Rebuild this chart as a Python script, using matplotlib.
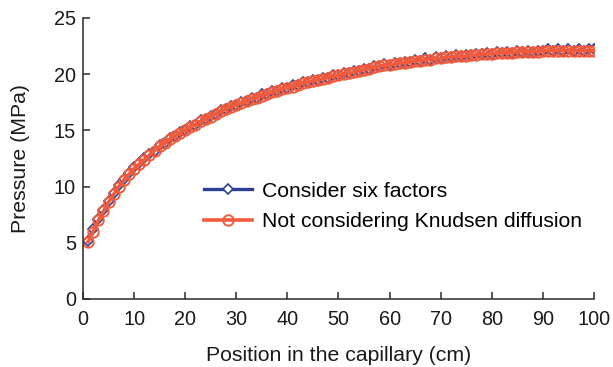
import matplotlib
matplotlib.use('Agg')
import matplotlib.pyplot as plt

plt.rcParams['font.family'] = ['Liberation Sans', 'DejaVu Sans']

# position along the capillary (cm), one node per centimetre
position = list(range(1, 101))

# pressure (MPa), all six factors considered
p_six = [5.2, 6.2, 7.1, 7.9, 8.7, 9.4, 10.1, 10.7, 11.2, 11.7,
         12.1, 12.5, 12.9, 13.2, 13.7, 13.9, 14.3, 14.5, 14.9, 15.0,
         15.4, 15.5, 15.9, 16.0, 16.3, 16.5, 16.8, 16.9, 17.2, 17.3,
         17.5, 17.6, 17.9, 17.9, 18.2, 18.2, 18.5, 18.5, 18.8, 18.8,
         19.0, 19.0, 19.3, 19.3, 19.5, 19.5, 19.7, 19.7, 19.9, 19.9,
         20.1, 20.1, 20.3, 20.3, 20.5, 20.5, 20.7, 20.7, 20.9, 20.8,
         21.0, 21.0, 21.1, 21.1, 21.3, 21.2, 21.4, 21.3, 21.5, 21.4,
         21.6, 21.5, 21.7, 21.6, 21.7, 21.7, 21.8, 21.8, 21.9, 21.8,
         22.0, 21.9, 22.0, 21.9, 22.1, 22.0, 22.1, 22.0, 22.1, 22.1,
         22.2, 22.1, 22.2, 22.1, 22.2, 22.1, 22.2, 22.1, 22.2, 22.2]

# pressure (MPa), Knudsen diffusion neglected
p_no_knudsen = [5.1, 6.0, 7.0, 7.8, 8.6, 9.3, 10.0, 10.6, 11.1, 11.6,
                12.0, 12.4, 12.8, 13.2, 13.6, 13.9, 14.2, 14.5, 14.8, 15.0,
                15.3, 15.5, 15.8, 16.0, 16.2, 16.5, 16.7, 16.9, 17.1, 17.3,
                17.4, 17.6, 17.8, 17.9, 18.1, 18.2, 18.4, 18.5, 18.7, 18.8,
                18.9, 19.0, 19.2, 19.3, 19.4, 19.5, 19.6, 19.7, 19.8, 19.9,
                20.0, 20.1, 20.2, 20.3, 20.4, 20.5, 20.6, 20.7, 20.8, 20.8,
                20.9, 21.0, 21.0, 21.1, 21.2, 21.2, 21.3, 21.3, 21.4, 21.4,
                21.5, 21.5, 21.6, 21.6, 21.6, 21.7, 21.7, 21.8, 21.8, 21.8,
                21.9, 21.9, 21.9, 21.9, 22.0, 22.0, 22.0, 22.0, 22.0, 22.1,
                22.1, 22.1, 22.1, 22.1, 22.1, 22.1, 22.1, 22.1, 22.1, 22.1]

blue = '#2b3f94'
orange = '#f15a3b'

fig = plt.figure(figsize=(6.13, 3.67), dpi=100)
ax = fig.add_axes([0.1354, 0.1853, 0.8336, 0.7657])

ax.plot(position, p_six, color=blue, lw=2.4, marker='D', ms=5.5,
        mfc='white', mec=blue, mew=1.2, label='Consider six factors')
ax.plot(position, p_no_knudsen, color=orange, lw=2.6, marker='o', ms=7.5,
        mfc='none', mec=orange, mew=1.4, label='Not considering Knudsen diffusion')

ax.set_xlim(0, 100)
ax.set_ylim(0, 25)
ax.set_xticks(range(0, 101, 10))
ax.set_yticks(range(0, 26, 5))
ax.spines['top'].set_visible(False)
ax.spines['right'].set_visible(False)
for s in ['left', 'bottom']:
    ax.spines[s].set_linewidth(1.1)
    ax.spines[s].set_color('#2a2a2a')
ax.tick_params(direction='in', length=5, width=1.1, labelsize=14.3,
               color='#2a2a2a', labelcolor='#1a1a1a')
ax.tick_params(axis='y', pad=5)
ax.tick_params(axis='x', pad=8)

ax.set_xlabel('Position in the capillary (cm)', fontsize=15.3, labelpad=12,
              color='#1a1a1a')
ax.set_ylabel('Pressure (MPa)', fontsize=15.3, labelpad=17, color='#1a1a1a')

ax.legend(loc='center left', bbox_to_anchor=(0.22, 0.329), borderaxespad=0,
          frameon=False, fontsize=15.2, handlelength=2.3, handletextpad=0.45,
          labelspacing=0.55)

fig.savefig('out.png', dpi=100)
